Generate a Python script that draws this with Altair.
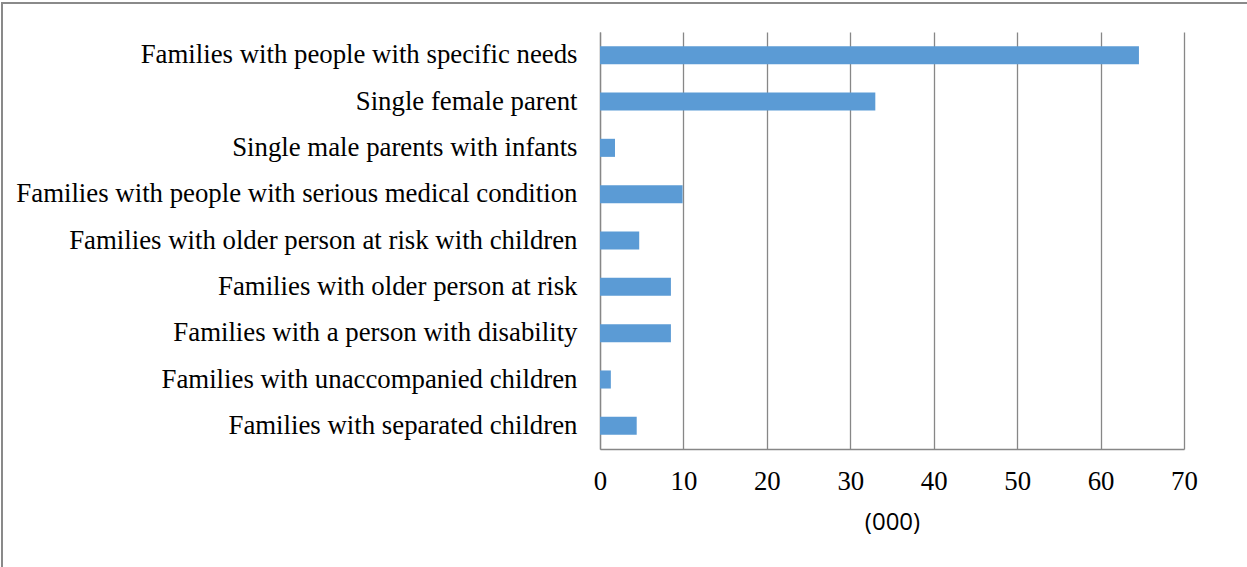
import altair as alt
import pandas as pd

# Household categories (top to bottom) and counts in thousands
categories = [
    "Families with people with specific needs",
    "Single female parent",
    "Single male parents with infants",
    "Families with people with serious medical condition",
    "Families with older person at risk with children",
    "Families with older person at risk",
    "Families with a person with disability",
    "Families with unaccompanied children",
    "Families with separated children",
]
values = [64.6, 33.0, 1.8, 9.9, 4.7, 8.5, 8.5, 1.3, 4.4]
x_ticks = [0, 10, 20, 30, 40, 50, 60, 70]

df = pd.DataFrame({"category": categories, "value": values})

W, H = 584, 417
GRID = "#878787"
SERIF = "Liberation Serif"

bars = alt.Chart(df).mark_bar(color="#5B9BD5").encode(
    y=alt.Y(
        "category:N",
        sort=categories,
        scale=alt.Scale(paddingInner=0.61, paddingOuter=0.305),
        axis=alt.Axis(
            title=None,
            ticks=False,
            domain=True,
            domainColor=GRID,
            domainWidth=1.3,
            labelFont=SERIF,
            labelFontSize=26.8,
            labelColor="#000000",
            labelPadding=23,
            labelLimit=800,
            grid=False,
        ),
    ),
    x=alt.X(
        "value:Q",
        scale=alt.Scale(domain=[0, 70], nice=False),
        axis=alt.Axis(
            values=x_ticks,
            title="(000)",
            titleFont="Open Sans",
            titleFontSize=24,
            titleFontWeight="normal",
            titleColor="#000000",
            titlePadding=16,
            labelFont=SERIF,
            labelFontSize=26.8,
            labelColor="#000000",
            labelPadding=19,
            labelFlush=False,
            labelOverlap=False,
            ticks=False,
            domainColor=GRID,
            domainWidth=1.3,
            grid=True,
            gridColor=GRID,
            gridWidth=1.3,
            gridOpacity=1,
        ),
    ),
)

# Outer frame around the whole figure
frame = alt.Chart(df).mark_rect(
    fill=None, stroke="#8a8a8a", strokeWidth=1.3
).encode(
    x=alt.value(-598), x2=alt.value(650),
    y=alt.value(-29), y2=alt.value(540),
)

chart = alt.layer(frame, bars).properties(
    width=W,
    height=H,
    padding={"left": 600, "top": 32, "right": 63, "bottom": 118},
    autosize=alt.AutoSizeParams(type="none"),
    background="white",
).configure_view(stroke=None)

chart.save("out.html", embed_options={"renderer": "svg", "actions": False})
